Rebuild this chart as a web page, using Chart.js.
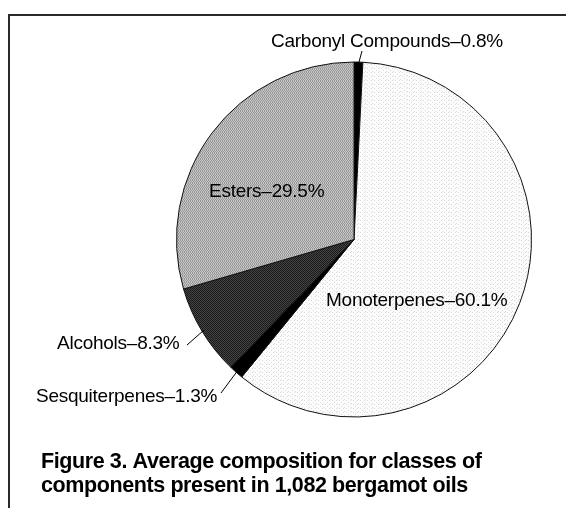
<!DOCTYPE html>
<html>
<head>
<meta charset="utf-8">
<script src="https://cdn.jsdelivr.net/npm/chart.js@4.4.1/dist/chart.umd.min.js"></script>
<style>
  body { margin: 0; background: #fff; }
  #caixa { position: relative; width: 566px; height: 508px; }
</style>
</head>
<body>
<div id="caixa"><canvas id="pizza" width="566" height="508"></canvas></div>
<script>
// Dados (ordem horária a partir do topo)
const categorias = ['Carbonyl Compounds', 'Monoterpenes', 'Sesquiterpenes', 'Alcohols', 'Esters'];
const percentuais = [0.8, 60.1, 1.3, 8.3, 29.5];
const legendaFigura = [
    'Figure 3. Average composition for classes of',
    'components present in 1,082 bergamot oils'
];

// Posição de cada rótulo: texto (x à esquerda, linha de base) e início da linha guia
const posRotulos = [
    { x: 271, y: 47, guia: [362, 51] },
    { x: 326, y: 306 },
    { x: 36, y: 402, guia: [221, 393] },
    { x: 57, y: 349, guia: [187, 345] },
    { x: 209, y: 197 }
];

// Texturas pequenas para imitar a retícula da impressão
function criaTextura(fundo, ponto, pontos, larg, alt) {
    const c = document.createElement('canvas');
    c.width = larg; c.height = alt;
    const g = c.getContext('2d');
    g.fillStyle = fundo;
    g.fillRect(0, 0, larg, alt);
    g.fillStyle = ponto;
    pontos.forEach(p => g.fillRect(p[0], p[1], 1, 1));
    return g.createPattern(c, 'repeat');
}

const ctxBase = document.getElementById('pizza').getContext('2d');
const texMono = criaTextura('#fcfcfc', '#dadada', [[0, 0], [3, 0], [5, 2], [1, 3]], 7, 4);
const texEster = criaTextura('#c6c6c6', '#979797', [[0, 0], [2, 0], [1, 1], [3, 1], [0, 2], [2, 2]], 4, 3);
const texAlcool = criaTextura('#444', '#1a1a1a', [[0, 0], [1, 1]], 2, 2);

const cores = ['#000', texMono, '#000', texAlcool, texEster];

const rotulosPlugin = {
    id: 'rotulos',
    afterDraw(chart) {
        const ctx = chart.ctx;
        const arcos = chart.getDatasetMeta(0).data;
        ctx.save();

        // moldura (linha de cima e da esquerda)
        ctx.strokeStyle = '#2a2a2a';
        ctx.lineWidth = 2;
        ctx.beginPath();
        ctx.moveTo(9, 508);
        ctx.lineTo(9, 15);
        ctx.lineTo(566, 15);
        ctx.stroke();

        // rótulos das fatias
        ctx.fillStyle = '#000';
        ctx.font = '19px "Liberation Sans", Arial, sans-serif';
        ctx.letterSpacing = '-0.25px';
        ctx.textBaseline = 'alphabetic';
        categorias.forEach((nome, i) => {
            const p = posRotulos[i];
            ctx.fillText(nome + '\u2013' + percentuais[i] + '%', p.x, p.y);
            if (p.guia) {
                const a = arcos[i];
                const meio = (a.startAngle + a.endAngle) / 2;
                const r = a.outerRadius - 2;
                ctx.strokeStyle = '#000';
                ctx.lineWidth = 1;
                ctx.beginPath();
                ctx.moveTo(p.guia[0], p.guia[1]);
                ctx.lineTo(a.x + r * Math.cos(meio), a.y + r * Math.sin(meio));
                ctx.stroke();
            }
        });

        // legenda da figura
        ctx.font = 'bold 21.5px "Liberation Sans", Arial, sans-serif';
        ctx.letterSpacing = '-0.4px';
        ctx.fillText(legendaFigura[0], 41, 468);
        ctx.fillText(legendaFigura[1], 41, 492);
        ctx.restore();
    }
};

new Chart(ctxBase, {
    type: 'pie',
    data: {
        labels: categorias,
        datasets: [{
            data: percentuais,
            backgroundColor: cores,
            borderColor: '#111',
            borderWidth: 1
        }]
    },
    options: {
        responsive: false,
        animation: false,
        layout: { padding: { left: 176, right: 34, top: 61, bottom: 90 } },
        plugins: {
            legend: { display: false },
            tooltip: { enabled: false }
        }
    },
    plugins: [rotulosPlugin]
});
</script>
</body>
</html>
